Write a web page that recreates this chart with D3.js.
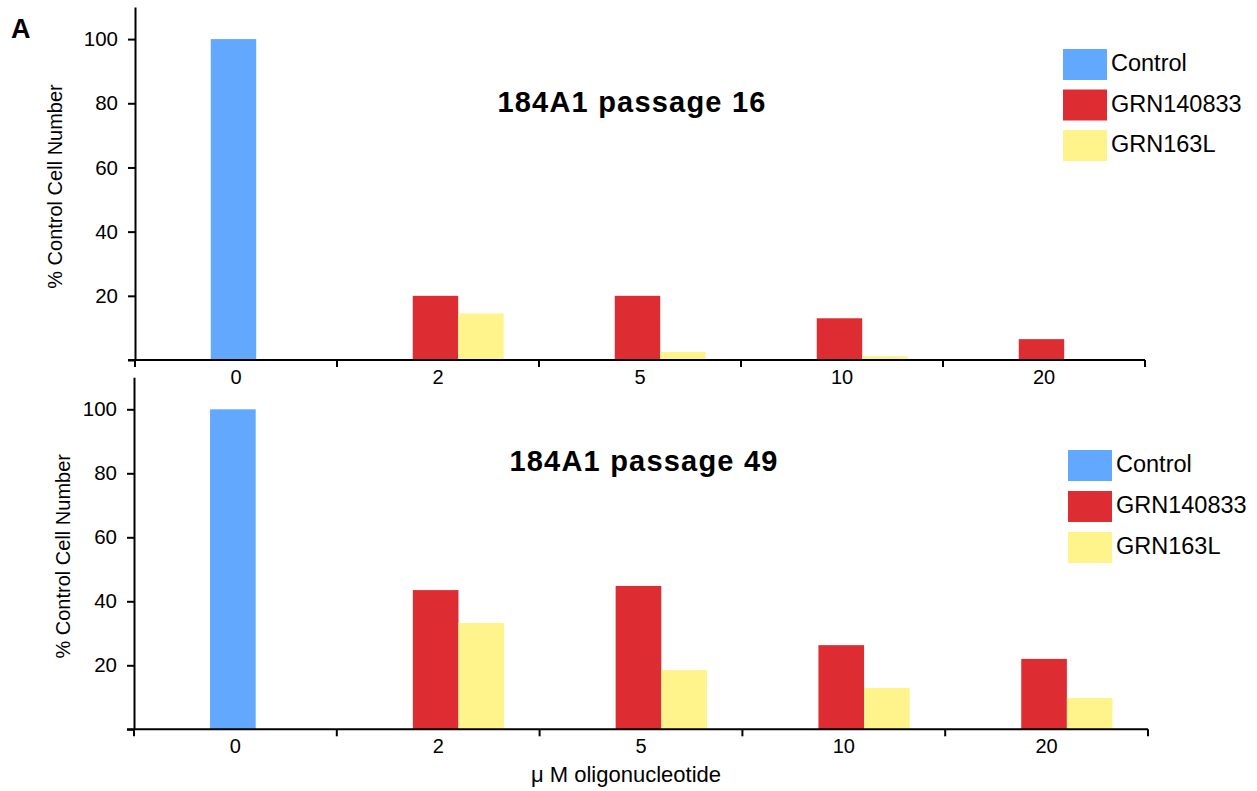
<!DOCTYPE html>
<html><head><meta charset="utf-8">
<script src="https://cdn.jsdelivr.net/npm/d3@7"></script>
<style>
body{margin:0;background:#fff;}
text{font-family:"Liberation Sans",Arial,sans-serif;fill:#000;}
</style></head>
<body><svg id="c" width="1257" height="791"></svg>
<script>
const categories = ["0","2","5","10","20"];
const seriesNames = ["Control","GRN140833","GRN163L"];
const yTickValues = [0,20,40,60,80,100];
const p16Control   = [100, null, null, null, null];
const p16GRN140833 = [null, 20, 20, 13, 6.5];
const p16GRN163L   = [null, 14.5, 2.5, 1.2, 0];
const p49Control   = [100, null, null, null, null];
const p49GRN140833 = [null, 43.5, 44.8, 26.3, 22];
const p49GRN163L   = [null, 33.2, 18.5, 12.9, 9.8];
const colors = {Control:"#62a8ff", GRN140833:"#de2c33", GRN163L:"#fff48c"};
const slotOf = {Control:1, GRN140833:1, GRN163L:2};

const svg = d3.select("#c");

svg.append("text").attr("x",11).attr("y",38).attr("font-size",27).attr("font-weight","bold").text("A");

function panel(cfg){
  const g = svg.append("g");
  const data = {Control:cfg.control, GRN140833:cfg.red, GRN163L:cfg.yellow};
  const x0 = d3.scaleBand().domain(categories).range([cfg.x0, cfg.x1]).padding(0);
  const x1 = d3.scaleBand().domain([0,1,2]).range([0, x0.bandwidth()]).paddingInner(0).paddingOuter(0.722).align(0.4615);
  const y = d3.scaleLinear().domain([0,110]).range([cfg.yb, cfg.yt]);

  seriesNames.forEach(s=>{
    g.selectAll(null).data(categories.map((c,i)=>({c, v:data[s][i]})).filter(d=>d.v!=null && d.v>0))
      .enter().append("rect")
      .attr("x", d=>x0(d.c)+x1(slotOf[s]))
      .attr("width", x1.bandwidth())
      .attr("y", d=>y(d.v))
      .attr("height", d=>y(0)-y(d.v))
      .attr("fill", colors[s]);
  });

  // y axis
  const ya = g.append("g").attr("transform",`translate(${cfg.x0},0)`)
    .call(d3.axisLeft(y).tickValues(yTickValues).tickSize(7).tickPadding(10).tickSizeOuter(0)
      .tickFormat(d=>d===0?"":d));
  ya.select(".domain").attr("stroke","#000").attr("stroke-width",2);
  ya.selectAll(".tick line").attr("stroke","#000").attr("stroke-width",2);
  ya.selectAll(".tick text").attr("font-size",20.5).attr("font-family","Liberation Sans, Arial, sans-serif").attr("fill","#000");

  // x axis line + boundary ticks
  g.append("line").attr("x1",cfg.x0-7).attr("x2",cfg.x1).attr("y1",y(0)).attr("y2",y(0)).attr("stroke","#000").attr("stroke-width",2);
  const bounds = categories.map(c=>x0(c)).concat([cfg.x1]);
  g.selectAll(null).data(bounds).enter().append("line")
    .attr("x1",d=>d).attr("x2",d=>d).attr("y1",y(0)).attr("y2",y(0)+7).attr("stroke","#000").attr("stroke-width",2);
  const xa = g.append("g").attr("transform",`translate(0,${y(0)})`)
    .call(d3.axisBottom(x0).tickSize(0).tickPadding(10));
  xa.select(".domain").remove();
  xa.selectAll(".tick text").attr("font-size",20).attr("font-family","Liberation Sans, Arial, sans-serif").attr("fill","#000");

  // y label
  g.append("text").attr("transform",`translate(${cfg.ylabX},${(y(0)+y(110))/2+3}) rotate(-90)`)
    .attr("text-anchor","middle").attr("font-size",20).text("% Control Cell Number");

  // title
  g.append("text").attr("x",cfg.titleX).attr("y",cfg.titleY).attr("text-anchor","middle")
    .attr("font-size",29).attr("letter-spacing",1.2).attr("font-weight","bold").text(cfg.title);

  // legend
  seriesNames.forEach((s,i)=>{
    const ly = cfg.legY + i*cfg.legStep;
    g.append("rect").attr("x",cfg.legX).attr("y",ly).attr("width",44).attr("height",31).attr("fill",colors[s]);
    g.append("text").attr("x",cfg.legX+48).attr("y",ly+22).attr("font-size",23.5).text(s);
  });
}

panel({x0:135, x1:1145, yb:360, yt:7, control:p16Control, red:p16GRN140833, yellow:p16GRN163L,
  title:"184A1 passage 16", titleX:632, titleY:112, legX:1063, legY:49, legStep:40.5, ylabX:62});
panel({x0:134, x1:1148, yb:729.3, yt:377.3, control:p49Control, red:p49GRN140833, yellow:p49GRN163L,
  title:"184A1 passage 49", titleX:644, titleY:471, legX:1068, legY:450, legStep:41, ylabX:70});

svg.append("text").attr("x",626).attr("y",782).attr("text-anchor","middle").attr("font-size",22).text("μ M oligonucleotide");
</script></body></html>
